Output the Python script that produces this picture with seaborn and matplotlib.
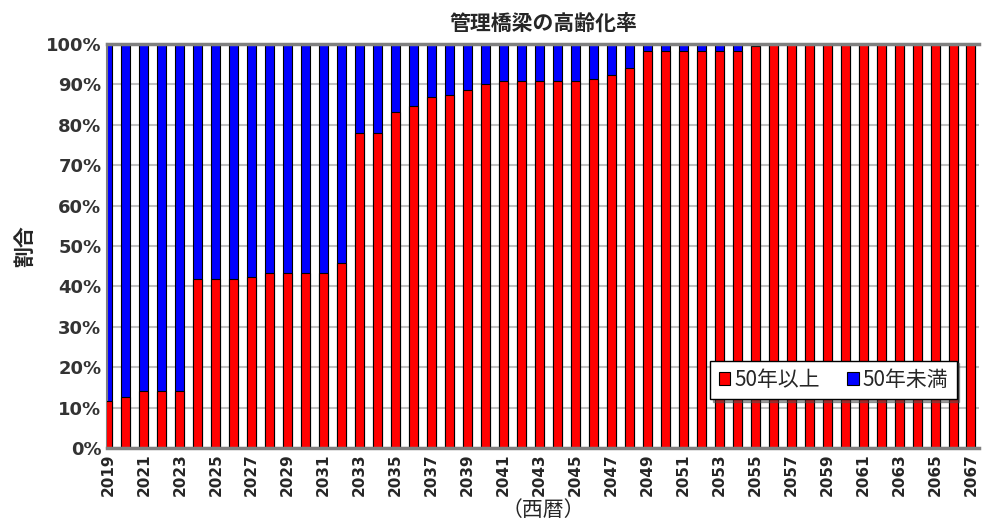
import matplotlib
matplotlib.use("Agg")
import matplotlib.pyplot as plt
import seaborn as sb
import pandas as pd
from matplotlib.patches import Patch

# data
years = list(range(2019, 2068))
over50 = [11.6, 12.5, 14.2, 14.2, 14.2, 41.8, 41.8, 41.8, 42.4, 43.2,
          43.2, 43.2, 43.2, 45.7, 77.9, 77.9, 83.2, 84.6, 87.0, 87.5,
          88.5, 90.0, 90.9, 90.9, 90.9, 90.9, 90.9, 91.4, 92.3, 94.0,
          98.3, 98.3, 98.3, 98.3, 98.3, 98.3, 99.5, 100, 100, 100,
          100, 100, 100, 100, 100, 100, 100, 100, 100]
total = [100] * len(years)
labels = ['50年以上', '50年未満']
title = '管理橋梁の高齢化率'

df = pd.DataFrame({'year': [str(y) for y in years], 'over50': over50, 'total': total})

sb.set_style('white')
plt.rcParams['font.family'] = ['Noto Sans CJK JP', 'DejaVu Sans']

fig = plt.figure(figsize=(9.84, 5.26), dpi=100)
ax = fig.add_axes([0.1087, 0.1483, 0.8863, 0.768])

# blue = full 100% bar, red drawn on top of it
sb.barplot(x='year', y='total', data=df, color='#0000ff', width=0.5,
           edgecolor='black', linewidth=0.8, saturation=1, ax=ax, zorder=2)
sb.barplot(x='year', y='over50', data=df, color='#ff0000', width=0.5,
           edgecolor='black', linewidth=0.8, saturation=1, ax=ax, zorder=3)

ax.set_xlim(-0.05, 48.45)
ax.set_ylim(0, 100)
ax.set_yticks(range(0, 101, 10))
ax.set_yticklabels([f'{v}%' for v in range(0, 101, 10)], fontsize=13,
                   fontweight='bold', color='#333333', family='DejaVu Sans')
ax.set_xticks(range(len(years)))
ax.set_xticklabels([str(y) if i % 2 == 0 else '' for i, y in enumerate(years)],
                   rotation=90, fontsize=11, fontweight='bold', family='DejaVu Sans')
ax.tick_params(axis='both', direction='in', length=4, color='black', pad=4)
ax.yaxis.grid(True, color='#c0c0c0', linewidth=1.5, zorder=0)
ax.set_axisbelow(True)

for s in ['top', 'bottom']:
    ax.spines[s].set_color('#808080')
    ax.spines[s].set_linewidth(2.5)
    ax.spines[s].set_zorder(4)
ax.spines['left'].set_color('#808080')
ax.spines['left'].set_linewidth(1.5)
ax.spines['right'].set_visible(False)

ax.set_title(title, fontsize=15, fontweight='bold', pad=10)
ax.set_ylabel('割合', fontsize=15, fontweight='bold', labelpad=8)
ax.set_xlabel('（西暦）', fontsize=15, labelpad=2)

handles = [Patch(facecolor='#ff0000', edgecolor='black', linewidth=0.8),
           Patch(facecolor='#0000ff', edgecolor='black', linewidth=0.8)]
leg = ax.legend(handles, labels, loc='lower left', bbox_to_anchor=(0.68, 0.095),
                ncol=2, fontsize=15, frameon=True, fancybox=False, shadow=True,
                handlelength=0.55, handleheight=0.55, handletextpad=0.2,
                columnspacing=1.3, borderpad=0.4, edgecolor='black')
leg.get_frame().set_linewidth(1)
leg.set_zorder(10)

plt.savefig('out.png', dpi=100)
